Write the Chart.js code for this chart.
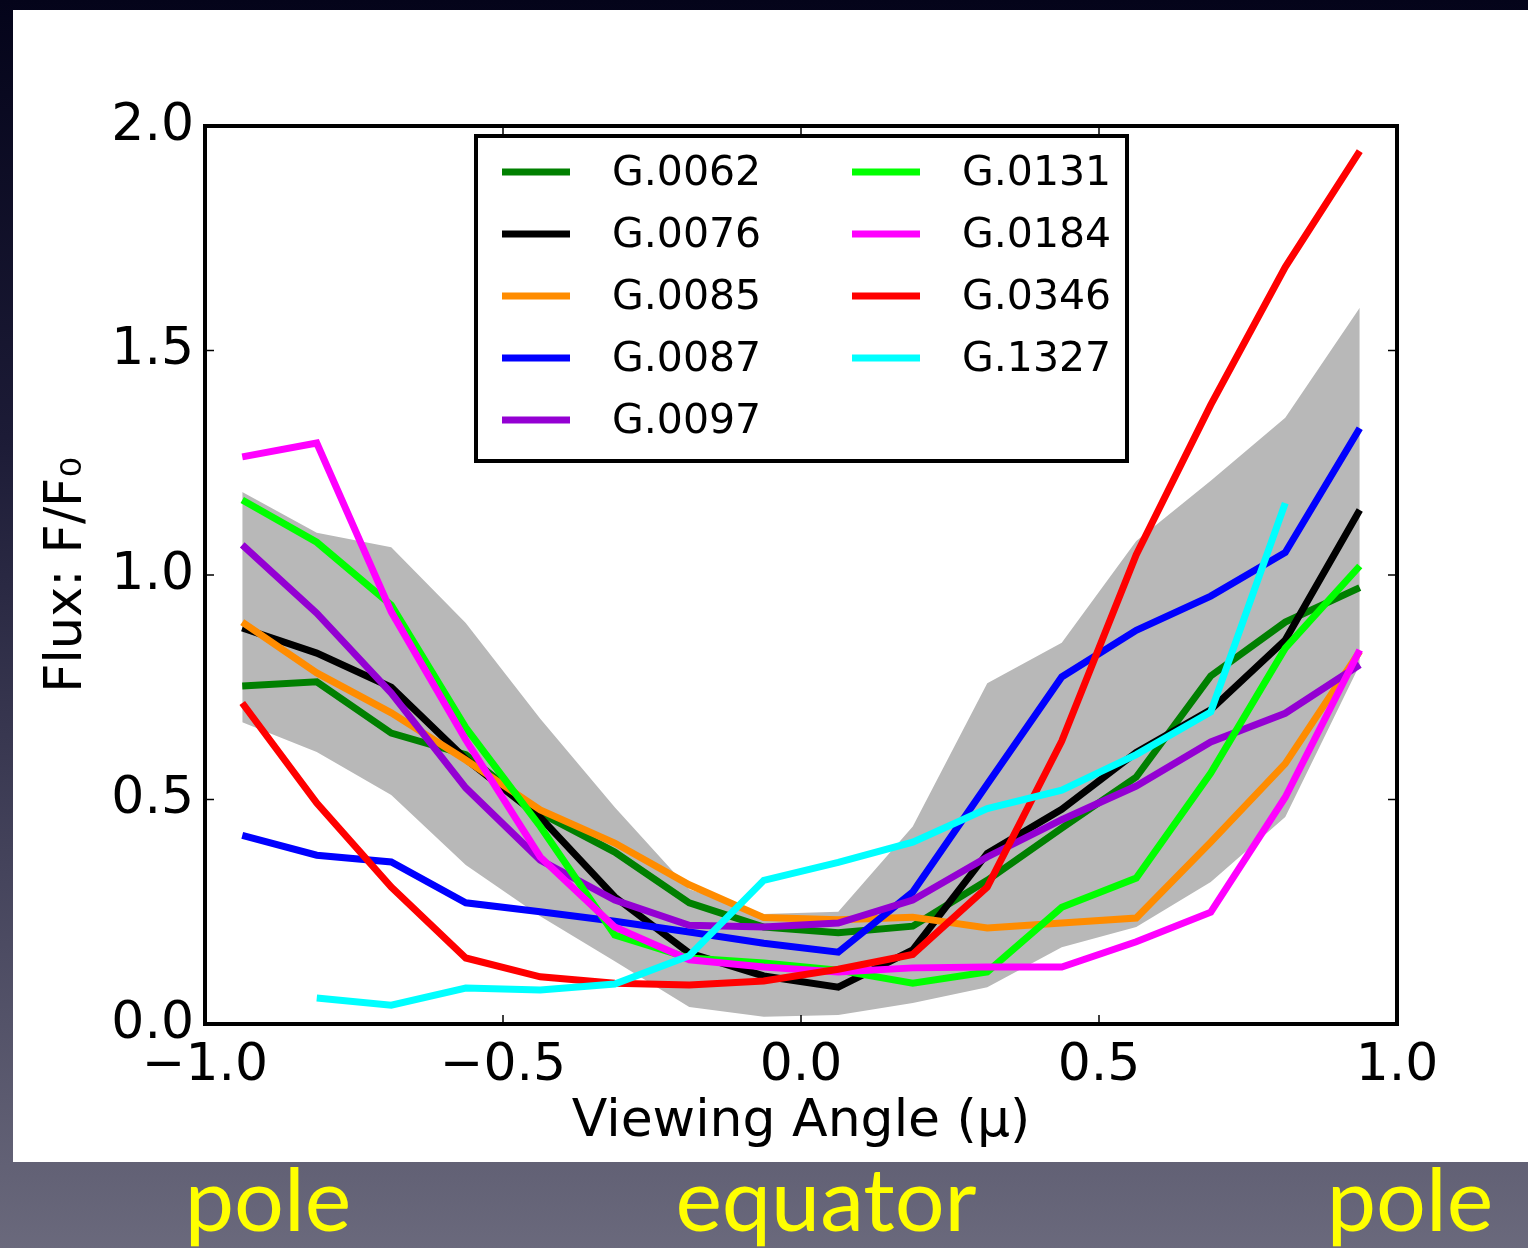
<!DOCTYPE html>
<html>
<head>
<meta charset="utf-8">
<title>Flux vs viewing angle</title>
<script src="https://cdn.jsdelivr.net/npm/chart.js@4.4.1/dist/chart.umd.min.js"></script>
<style>
  html, body { margin: 0; padding: 0; }
  body {
    width: 1528px; height: 1248px; overflow: hidden; position: relative;
    background: linear-gradient(to bottom, #04041a 0%, #1c1b36 35%, #45445c 70%, #6a697c 100%);
  }
  #panel { position: absolute; left: 13px; top: 10px; width: 1515px; height: 1152px; background: #ffffff; }
  #chart { position: absolute; left: 0; top: 0; }
  .zone {
    position: absolute; top: 1153px; width: 400px; margin-left: -200px;
    font-family: Lato, "Open Sans", sans-serif; font-size: 88px; line-height: 88px; height: 88px;
    color: #ffff00; text-align: center; white-space: nowrap;
  }
</style>
</head>
<body>
<div id="panel"></div>
<canvas id="chart" width="1528" height="1248"></canvas>
<div class="zone" style="left:268px">pole</div>
<div class="zone" style="left:826px">equator</div>
<div class="zone" style="left:1410px">pole</div>

<script>
// Bin centres of the viewing angle mu
const mu = [-0.9375, -0.8125, -0.6875, -0.5625, -0.4375, -0.3125, -0.1875, -0.0625,
            0.0625, 0.1875, 0.3125, 0.4375, 0.5625, 0.6875, 0.8125, 0.9375];

// Normalised flux F/F0 per object
const g0062 = [0.753, 0.762, 0.648, 0.600, 0.470, 0.383, 0.270, 0.216, 0.203, 0.218, 0.320, 0.436, 0.550, 0.775, 0.895, 0.972];
const g0076 = [0.882, 0.826, 0.750, 0.590, 0.460, 0.283, 0.158, 0.107, 0.082, 0.165, 0.380, 0.478, 0.605, 0.700, 0.855, 1.145];
const g0085 = [0.895, 0.782, 0.693, 0.588, 0.477, 0.403, 0.310, 0.237, 0.232, 0.238, 0.214, 0.225, 0.236, 0.405, 0.580, 0.830];
const g0087 = [0.420, 0.376, 0.361, 0.270, 0.250, 0.229, 0.205, 0.180, 0.160, 0.294, 0.534, 0.773, 0.877, 0.953, 1.050, 1.327];
const g0097 = [1.067, 0.915, 0.737, 0.526, 0.365, 0.276, 0.220, 0.216, 0.225, 0.276, 0.372, 0.455, 0.530, 0.628, 0.692, 0.800];
const g0131 = [1.167, 1.073, 0.933, 0.660, 0.440, 0.198, 0.147, 0.136, 0.120, 0.091, 0.116, 0.260, 0.325, 0.559, 0.837, 1.020];
const g0184 = [1.263, 1.294, 0.918, 0.633, 0.372, 0.216, 0.143, 0.127, 0.116, 0.125, 0.127, 0.127, 0.183, 0.249, 0.505, 0.833];
const g0346 = [0.715, 0.492, 0.305, 0.147, 0.105, 0.091, 0.087, 0.096, 0.122, 0.155, 0.305, 0.630, 1.045, 1.379, 1.686, 1.944];
const g1327 = [null, 0.058, 0.042, 0.080, 0.076, 0.089, 0.152, 0.320, 0.360, 0.405, 0.480, 0.521, 0.600, 0.695, 1.160, null];

// Spread of the sample (shaded envelope)
const bandLow  = [0.672, 0.606, 0.510, 0.354, 0.240, 0.140, 0.038, 0.016, 0.020, 0.047, 0.082, 0.171, 0.216, 0.316, 0.461, 0.800];
const bandHigh = [1.185, 1.094, 1.062, 0.893, 0.680, 0.483, 0.300, 0.245, 0.250, 0.440, 0.759, 0.849, 1.076, 1.210, 1.350, 1.595];

const seriesNames  = ['G.0062', 'G.0076', 'G.0085', 'G.0087', 'G.0097', 'G.0131', 'G.0184', 'G.0346', 'G.1327'];
const seriesValues = [g0062, g0076, g0085, g0087, g0097, g0131, g0184, g0346, g1327];
const seriesColors = ['#008000', '#000000', '#ff8c00', '#0000ff', '#9400d3', '#00ff00', '#ff00ff', '#ff0000', '#00ffff'];

const xTicks = [-1.0, -0.5, 0.0, 0.5, 1.0];
const yTicks = [0.0, 0.5, 1.0, 1.5, 2.0];

const FONT = "'DejaVu Sans', 'Liberation Sans', sans-serif";

function pts(values) {
  return mu.map((m, i) => ({ x: m, y: values[i] }));
}
function fmt(v) {
  return v.toFixed(1).replace('-', '\u2212');
}

const datasets = [
  { label: 'low', data: pts(bandLow), borderWidth: 0, pointRadius: 0, fill: false, order: 100, backgroundColor: 'rgba(0,0,0,0)', borderColor: 'rgba(0,0,0,0)' },
  { label: 'high', data: pts(bandHigh), borderWidth: 0, pointRadius: 0, fill: '-1', order: 100, backgroundColor: '#b8b8b8', borderColor: 'rgba(0,0,0,0)' }
];
seriesNames.forEach((name, i) => {
  datasets.push({
    label: name,
    data: pts(seriesValues[i]),
    borderColor: seriesColors[i],
    backgroundColor: seriesColors[i],
    borderWidth: 7,
    pointRadius: 0,
    tension: 0,
    fill: false,
    spanGaps: false,
    order: seriesNames.length - i,
    inKey: true
  });
});

// Axes frame with inward ticks on all four sides
const framePlugin = {
  id: 'frame',
  afterDatasetsDraw(chart) {
    const { ctx, chartArea: a, scales } = chart;
    ctx.save();
    ctx.strokeStyle = '#000';
    ctx.lineWidth = 1.5;
    ctx.beginPath();
    scales.x.ticks.forEach(t => {
      const px = scales.x.getPixelForValue(t.value);
      ctx.moveTo(px, a.bottom); ctx.lineTo(px, a.bottom - 9);
      ctx.moveTo(px, a.top); ctx.lineTo(px, a.top + 9);
    });
    scales.y.ticks.forEach(t => {
      const py = scales.y.getPixelForValue(t.value);
      ctx.moveTo(a.left, py); ctx.lineTo(a.left + 9, py);
      ctx.moveTo(a.right, py); ctx.lineTo(a.right - 9, py);
    });
    ctx.stroke();
    ctx.lineWidth = 4;
    ctx.strokeRect(a.left, a.top, a.right - a.left, a.bottom - a.top);
    ctx.restore();
  }
};

// Two-column key, filled column by column
const keyPlugin = {
  id: 'seriesKey',
  afterDatasetsDraw(chart) {
    const { ctx, chartArea: a } = chart;
    const bx = a.left + 271, by = a.top + 10, bw = 651, bh = 325;
    ctx.save();
    ctx.fillStyle = '#fff';
    ctx.fillRect(bx, by, bw, bh);
    ctx.lineWidth = 4;
    ctx.strokeStyle = '#000';
    ctx.strokeRect(bx, by, bw, bh);
    const items = chart.data.datasets.filter(d => d.inKey);
    ctx.font = '41px ' + FONT;
    ctx.textBaseline = 'middle';
    ctx.textAlign = 'left';
    items.forEach((d, i) => {
      const col = Math.floor(i / 5), row = i % 5;
      const x0 = bx + 26 + col * 350;
      const y0 = by + 36 + row * 62;
      ctx.strokeStyle = d.borderColor;
      ctx.lineWidth = 7;
      ctx.beginPath();
      ctx.moveTo(x0, y0); ctx.lineTo(x0 + 68, y0);
      ctx.stroke();
      ctx.fillStyle = '#000';
      ctx.fillText(d.label, x0 + 110, y0 + 2);
    });
    ctx.restore();
  }
};

new Chart(document.getElementById('chart'), {
  type: 'line',
  data: { datasets },
  options: {
    responsive: false,
    animation: false,
    events: [],
    layout: { padding: { left: 0, top: 126, right: 131, bottom: 0 } },
    plugins: { legend: { display: false }, tooltip: { enabled: false } },
    scales: {
      x: {
        type: 'linear',
        min: -1, max: 1,
        grid: { display: false },
        border: { display: false },
        afterBuildTicks: s => { s.ticks = xTicks.map(v => ({ value: v })); },
        afterFit: s => { s.height = 224; },
        ticks: {
          autoSkip: false, maxRotation: 0, padding: 3, color: '#000',
          font: { family: FONT, size: 52, lineHeight: 1.2 },
          callback: v => fmt(v)
        },
        title: {
          display: true, text: 'Viewing Angle (\u03bc)', color: '#000',
          font: { family: FONT, size: 52, lineHeight: 1.2 },
          padding: { top: 0, bottom: 94 }
        }
      },
      y: {
        type: 'linear',
        min: 0, max: 2,
        grid: { display: false },
        border: { display: false },
        afterBuildTicks: s => { s.ticks = yTicks.map(v => ({ value: v })); },
        afterFit: s => { s.width = 205; },
        ticks: {
          autoSkip: false, padding: 3, color: '#000',
          font: { family: FONT, size: 52, lineHeight: 1.2 },
          callback: v => fmt(v)
        },
        title: {
          display: true, text: 'Flux: F/F\u2080', color: '#000',
          font: { family: FONT, size: 51, lineHeight: 1.2 },
          padding: { top: 37, bottom: 0 }
        }
      }
    }
  },
  plugins: [framePlugin, keyPlugin]
});
</script>
</body>
</html>
